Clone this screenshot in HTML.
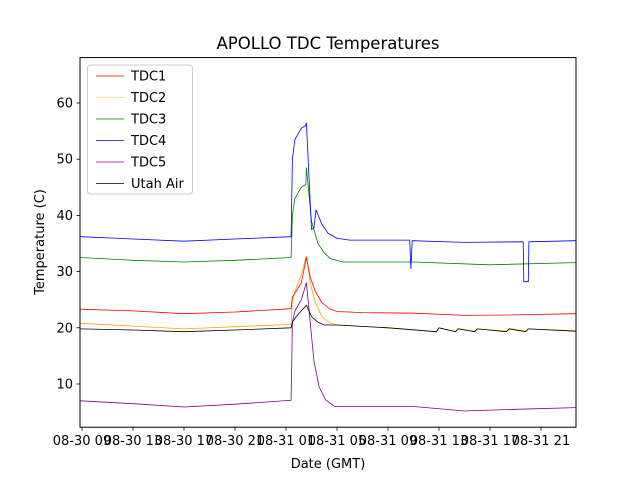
<!DOCTYPE html>
<html><head><meta charset="utf-8"><style>
body{margin:0;background:#fff}
svg text{font-family:"DejaVu Sans","Liberation Sans",sans-serif;fill:#000}
</style></head><body>
<svg id="chart" width="640" height="480" viewBox="0 0 640 480">
<rect width="640" height="480" fill="#fff"/>
<text x="328" y="49" font-size="16.5" text-anchor="middle">APOLLO TDC Temperatures</text>
<g id="plot"></g>
<rect x="80" y="57.6" width="496" height="369.6" fill="none" stroke="#000" stroke-width="1"/>
<g id="axes"></g>
<text x="328" y="468" font-size="13" text-anchor="middle">Date (GMT)</text>
<text x="44" y="242" font-size="13" text-anchor="middle" transform="rotate(-90 44 242)">Temperature (C)</text>
<g id="legend"></g>
</svg>
<script>
const xTickLabels=["08-30 09","08-30 13","08-30 17","08-30 21","08-31 01","08-31 05","08-31 09","08-31 13","08-31 17","08-31 21"];
const xTickHours=[0,4,8,12,16,20,24,28,32,36];
const yTicks=[10,20,30,40,50,60];
const seriesNames=["TDC1","TDC2","TDC3","TDC4","TDC5","Utah Air"];
const tdc1H=[-0.15,4,8,12,16.4,16.5,16.8,17.2,17.6,17.9,18.3,18.8,19.4,20,22,26,30,34,38.7];
const tdc1V=[23.3,23,22.5,22.8,23.4,25.5,26.5,28,32.5,29,26.5,24.5,23.4,22.9,22.7,22.6,22.2,22.3,22.5];
const tdc2H=[-0.15,4,8,12,16.4,16.5,16.8,17.2,17.6,17.9,18.3,18.8,19.4,20,24,27.8,28,29.3,29.5,30.8,31,33.3,33.5,34.8,35,38.7];
const tdc2V=[20.8,20.3,19.8,20.2,20.6,25,27,29.5,32.8,28,24.5,22,20.9,20.5,20,19.3,20,19.3,19.9,19.3,19.8,19.4,19.9,19.4,19.8,19.5];
const tdc3H=[-0.15,4,8,12,16.4,16.5,16.7,17.2,17.55,17.6,18,18.5,19,19.5,20.5,26,32,38.7];
const tdc3V=[32.5,32,31.7,32,32.5,40,43,45,45.5,48.5,39,35,33.3,32.3,31.7,31.7,31.2,31.6];
const tdc4H=[-0.15,4,8,12,16.4,16.5,16.7,17.2,17.55,17.6,18,18.2,18.35,18.8,19.3,20,21,25.7,25.8,25.9,30,34.6,34.65,35,35.05,38.7];
const tdc4V=[36.2,35.8,35.4,35.8,36.2,50,53.5,55.5,56,56.5,37.5,37.8,41,38.5,36.8,35.9,35.6,35.6,30.5,35.5,35.2,35.3,28.2,28.2,35.3,35.5];
const tdc5H=[-0.15,4,8,12,16.4,16.5,16.7,17.2,17.6,17.9,18.2,18.6,19.1,19.8,22,26,30,34,38.7];
const tdc5V=[7,6.5,5.9,6.4,7.1,21,23,25,28,21,14,9.5,7.2,6,6,6,5.2,5.5,5.8];
const airH=[-0.15,4,8,12,16.4,16.5,16.8,17.2,17.6,18,18.5,19,20,24,27.8,28,29.3,29.5,30.8,31,33.3,33.5,34.8,35,38.7];
const airV=[19.8,19.6,19.3,19.6,20,21,22,23,24,22,21,20.5,20.5,20,19.3,20,19.3,19.8,19.3,19.8,19.3,19.8,19.3,19.8,19.4];
const seriesH=[tdc1H,tdc2H,tdc3H,tdc4H,tdc5H,airH];
const seriesV=[tdc1V,tdc2V,tdc3V,tdc4V,tdc5V,airV];
const colors=["#ff0000","#ffa500","#008000","#0000ff","#800080","#000000"];
const legendColors=["#ff0000","#ffd27f","#008000","#0000ff","#800080","#000000"];
const NS="http://www.w3.org/2000/svg";
const xS=h=>82+h*12.75;
const yS=v=>427.2-(v-2.31)*5.62;
const plot=document.getElementById('plot');
const axes=document.getElementById('axes');
function mk(tag,attrs,parent){const e=document.createElementNS(NS,tag);for(const k in attrs)e.setAttribute(k,attrs[k]);parent.appendChild(e);return e;}
const order=[1,0,2,3,4,5];
order.forEach(i=>{
  const pts=seriesH[i].map((h,j)=>xS(h).toFixed(1)+","+yS(seriesV[i][j]).toFixed(1)).join(" ");
  const pl=mk('polyline',{points:pts,fill:'none',stroke:colors[i],'stroke-width':0.8},plot);
  
  
});
xTickHours.forEach((h,i)=>{
  const x=xS(h);
  const t=mk('line',{x1:x,x2:x,y1:427.2,y2:430.7,stroke:'#000','stroke-width':0.8},axes);
  
  
  const tx=mk('text',{x:x,y:445,'font-size':13,'text-anchor':'middle'},axes);
  tx.textContent=xTickLabels[i];
  
  
});
yTicks.forEach(v=>{
  const y=yS(v);
  const t=mk('line',{x1:76.5,x2:80,y1:y,y2:y,stroke:'#000','stroke-width':0.8},axes);
  
  
  const tx=mk('text',{x:73,y:y+4.5,'font-size':13,'text-anchor':'end'},axes);
  tx.textContent=v;
  
  
});
const lg=document.getElementById('legend');
const box=mk('rect',{x:87.5,y:65,width:105,height:129,rx:3,fill:'#fff','fill-opacity':0.8,stroke:'#ccc'},lg);


seriesNames.forEach((n,i)=>{
  const y=76+i*21.5;
  const l=mk('line',{x1:96,x2:124,y1:y,y2:y,stroke:legendColors[i],'stroke-width':0.8},lg);
  
  
  const t=mk('text',{x:131,y:y+4.5,'font-size':13},lg);
  t.textContent=n;
  
  
});
</script>
</body></html>
